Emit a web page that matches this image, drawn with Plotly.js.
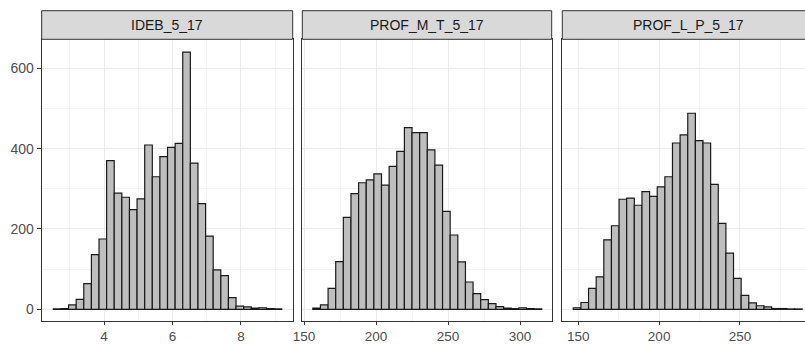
<!DOCTYPE html>
<html>
<head>
<meta charset="utf-8">
<script src="https://cdn.plot.ly/plotly-3.0.1.min.js"></script>
<style>
html,body{margin:0;padding:0;overflow:hidden;background:#fff;width:805px;height:344px;}
#chart{width:816px;height:344px;}
</style>
</head>
<body>
<div id="chart"></div>
<script>
// Panel titles
const panelNames = ["IDEB_5_17", "PROF_M_T_5_17", "PROF_L_P_5_17"];

// Panel 1: IDEB_5_17 bin centers and counts
const idebBins = [2.631, 2.853, 3.076, 3.298, 3.520, 3.743, 3.965, 4.187, 4.409, 4.632,
  4.854, 5.076, 5.299, 5.521, 5.743, 5.966, 6.188, 6.410, 6.632, 6.855,
  7.077, 7.299, 7.522, 7.744, 7.966, 8.189, 8.411, 8.633, 8.855, 9.078];
const idebCounts = [1, 2, 11, 25, 64, 136, 175, 370, 289, 279,
  248, 275, 409, 330, 380, 403, 413, 640, 364, 263,
  182, 98, 84, 29, 8, 6, 3, 4, 2, 1];
const idebWidth = 0.2223;

// Panel 2: PROF_M_T_5_17
const matBins = [158.75, 164.05, 169.35, 174.65, 179.95, 185.25, 190.55, 195.85, 201.15, 206.45,
  211.75, 217.05, 222.35, 227.65, 232.95, 238.25, 243.55, 248.85, 254.15, 259.45,
  264.75, 270.05, 275.35, 280.65, 285.95, 291.25, 296.55, 301.85, 307.15, 312.45];
const matCounts = [3, 11, 52, 119, 229, 288, 315, 322, 337, 309,
  356, 393, 452, 440, 440, 397, 359, 244, 185, 118,
  68, 39, 24, 14, 7, 3, 2, 4, 2, 1];
const matWidth = 5.3;

// Panel 3: PROF_L_P_5_17
const lpBins = [149.26, 153.98, 158.70, 163.42, 168.14, 172.86, 177.58, 182.30, 187.02, 191.74,
  196.46, 201.18, 205.90, 210.62, 215.34, 220.06, 224.78, 229.50, 234.22, 238.94,
  243.66, 248.38, 253.10, 257.82, 262.54, 267.26, 271.98, 276.70, 281.42, 286.14];
const lpCounts = [4, 17, 52, 81, 173, 208, 274, 277, 259, 293,
  281, 305, 330, 414, 434, 488, 420, 414, 311, 214,
  140, 77, 35, 16, 9, 6, 2, 2, 1, 1];
const lpWidth = 4.72;

const FONT = "'Liberation Sans', Arial, sans-serif";
const barStyle = {color: "#BEBEBE", line: {color: "#1a1a1a", width: 1.2}};

function barTrace(x, y, w, xa, ya) {
  return {type: "bar", x: x, y: y, width: x.map(() => w), xaxis: xa, yaxis: ya,
    marker: barStyle, hoverinfo: "skip", showlegend: false};
}

const data = [
  barTrace(idebBins, idebCounts, idebWidth, "x", "y"),
  barTrace(matBins, matCounts, matWidth, "x2", "y2"),
  barTrace(lpBins, lpCounts, lpWidth, "x3", "y3")
];

const W = 816, H = 344;
const px = v => v / W;
const py = v => (H - v) / H;

const xDomains = [[px(41.7), px(292.7)], [px(302.3), px(551.7)], [px(562.3), px(814)]];
const xRanges = [[2.18, 9.51], [148.8, 322.0], [140.1, 295.8]];
const xDticks = [2, 50, 50];
const yDomain = [py(321), py(39.3)];
const yRange = [-29, 672];

function xAxis(i) {
  return {
    domain: xDomains[i], range: xRanges[i], anchor: i === 0 ? "y" : "y" + (i + 1),
    tick0: 0, dtick: xDticks[i], ticks: "outside", ticklen: 3, tickwidth: 1, tickcolor: "#333333",
    showline: true, mirror: true, linecolor: "#333333", linewidth: 1,
    showgrid: true, gridcolor: "#EBEBEB", gridwidth: 1, zeroline: false,
    minor: {dtick: xDticks[i] / 2, tick0: 0, showgrid: true, gridcolor: "#EBEBEB", gridwidth: 0.6, ticks: ""},
    tickfont: {family: FONT, size: 13.5, color: "#4D4D4D"}, fixedrange: true
  };
}
function yAxis(i) {
  return {
    domain: yDomain, range: yRange, anchor: i === 0 ? "x" : "x" + (i + 1),
    tick0: 0, dtick: 200, ticks: i === 0 ? "outside" : "", ticklen: 4, tickwidth: 1, tickcolor: "#333333",
    showticklabels: i === 0,
    showline: true, mirror: true, linecolor: "#333333", linewidth: 1,
    showgrid: true, gridcolor: "#EBEBEB", gridwidth: 1, zeroline: false,
    minor: {dtick: 100, tick0: 0, showgrid: true, gridcolor: "#EBEBEB", gridwidth: 0.6, ticks: ""},
    tickfont: {family: FONT, size: 14, color: "#4D4D4D"}, fixedrange: true
  };
}

const shapes = [], annotations = [];
for (let i = 0; i < 3; i++) {
  shapes.push({type: "rect", xref: "paper", yref: "paper",
    x0: xDomains[i][0], x1: xDomains[i][1], y0: py(39.3), y1: py(10.7),
    fillcolor: "#D9D9D9", line: {color: "#333333", width: 1}, layer: "above"});
  annotations.push({xref: "paper", yref: "paper", x: (xDomains[i][0] + xDomains[i][1]) / 2,
    y: (py(39.3) + py(10.7)) / 2, xanchor: "center", yanchor: "middle", showarrow: false,
    text: panelNames[i], font: {family: FONT, size: 14, color: "#1A1A1A"}});
}

const layout = {
  width: W, height: H, margin: {l: 0, r: 0, t: 0, b: 0},
  paper_bgcolor: "#ffffff", plot_bgcolor: "#ffffff",
  bargap: 0, showlegend: false, hovermode: false,
  xaxis: xAxis(0), xaxis2: xAxis(1), xaxis3: xAxis(2),
  yaxis: yAxis(0), yaxis2: yAxis(1), yaxis3: yAxis(2),
  shapes: shapes, annotations: annotations
};

Plotly.newPlot("chart", data, layout, {staticPlot: true, displayModeBar: false});
</script>
</body>
</html>
